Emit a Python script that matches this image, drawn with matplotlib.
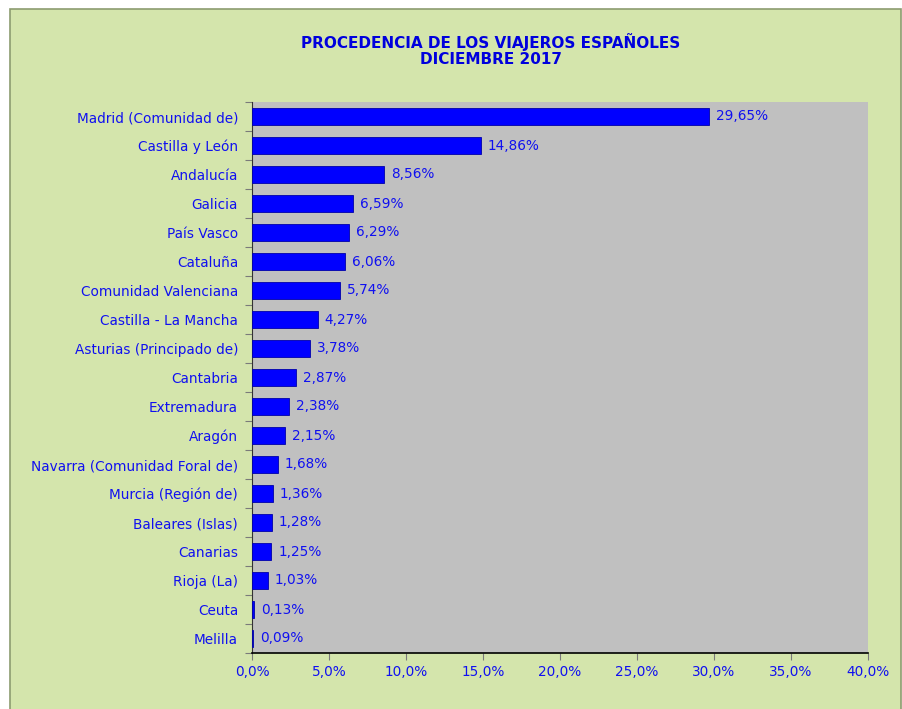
import matplotlib.pyplot as plt
from matplotlib.patches import Rectangle
from matplotlib.ticker import FixedLocator, NullFormatter

regiones = ["Madrid (Comunidad de)", "Castilla y León", "Andalucía", "Galicia",
            "País Vasco", "Cataluña", "Comunidad Valenciana", "Castilla - La Mancha",
            "Asturias (Principado de)", "Cantabria", "Extremadura", "Aragón",
            "Navarra (Comunidad Foral de)", "Murcia (Región de)", "Baleares (Islas)",
            "Canarias", "Rioja (La)", "Ceuta", "Melilla"]
porcentajes = [29.65, 14.86, 8.56, 6.59, 6.29, 6.06, 5.74, 4.27, 3.78, 2.87,
               2.38, 2.15, 1.68, 1.36, 1.28, 1.25, 1.03, 0.13, 0.09]
xticks = [0, 5, 10, 15, 20, 25, 30, 35, 40]

W, H = 903, 709
azul = "#1010f0"
fs = 9.8

fig = plt.figure(figsize=(W / 100, H / 100), dpi=100)
fig.patch.set_facecolor("white")
# fondo verde del grafico
fig.patches.append(Rectangle((10 / W, -10 / H), 891 / W, 710 / H, transform=fig.transFigure,
                             facecolor="#d4e5ac", edgecolor="#8c9c70", linewidth=1.2,
                             zorder=-1))

ax = fig.add_axes((252 / W, 1 - 653 / H, 616 / W, 551 / H))
ax.set_facecolor("#c0c0c0")

y = list(range(len(regiones)))
ax.barh(y, porcentajes, height=0.62, color="#0000ff", edgecolor="#0000aa",
        linewidth=0.6, zorder=3)
for yi, v in zip(y, porcentajes):
    ax.text(v + 0.45, yi, f"{v:.2f}%".replace(".", ","), va="center", ha="left",
            color=azul, fontsize=fs, zorder=4)

ax.set_ylim(len(regiones) - 0.5, -0.5)
ax.set_xlim(0, 40)
ax.set_yticks(y)
ax.set_yticklabels(regiones, color=azul, fontsize=fs)
ax.tick_params(axis="y", length=0, pad=10)
ax.yaxis.set_minor_locator(FixedLocator([i - 0.5 for i in range(len(regiones) + 1)]))
ax.yaxis.set_minor_formatter(NullFormatter())
ax.tick_params(axis="y", which="minor", length=5, color="#7a7a7a", width=0.8)

ax.set_xticks(xticks)
ax.set_xticklabels([f"{t:.1f}%".replace(".", ",") for t in xticks], color=azul,
                   fontsize=fs)
ax.tick_params(axis="x", length=5, color="#7a7a7a", width=0.8, pad=4)

for s in ["top", "right"]:
    ax.spines[s].set_visible(False)
ax.spines["left"].set_color("#333333")
ax.spines["left"].set_linewidth(0.8)
ax.spines["bottom"].set_color("black")
ax.spines["bottom"].set_linewidth(1.2)

fig.text(491 / W, 1 - 42 / H, "PROCEDENCIA DE LOS VIAJEROS ESPAÑOLES", ha="center",
         va="center", color="#0000dd", fontsize=11, fontweight="bold")
fig.text(491 / W, 1 - 59 / H, "DICIEMBRE 2017", ha="center", va="center",
         color="#0000dd", fontsize=11, fontweight="bold")

fig.savefig("out.png", dpi=100)
